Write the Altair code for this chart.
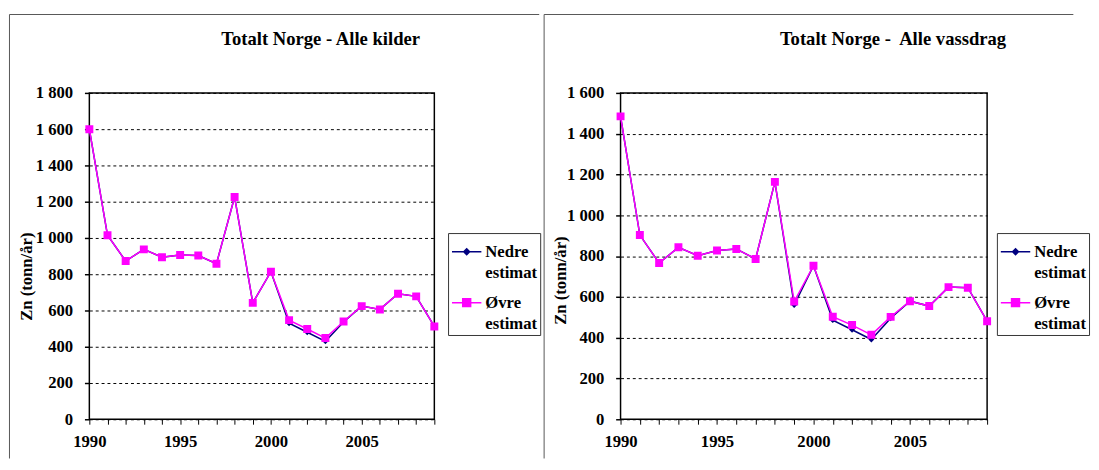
import altair as alt
import pandas as pd

# ---------------- data ----------------
years = list(range(1990, 2010))
series_names = ["Nedre estimat", "Øvre estimat"]
series_colors = ["#000080", "#ff00ff"]

left_title = "Totalt Norge - Alle kilder"
left_nedre = [1600, 1015, 873, 937, 894, 906, 903, 858, 1226, 642, 814, 530, 480, 430, 537, 624, 606, 692, 678, 512]
left_ovre = [1600, 1015, 873, 937, 894, 906, 903, 858, 1226, 642, 814, 547, 498, 448, 539, 624, 606, 692, 678, 512]
left_y_ticks = [0, 200, 400, 600, 800, 1000, 1200, 1400, 1600, 1800]

right_title = "Totalt Norge -\u00a0 Alle vassdrag"
right_nedre = [1485, 903, 766, 843, 802, 827, 835, 786, 1164, 560, 753, 486, 439, 391, 495, 579, 555, 648, 645, 481]
right_ovre = [1485, 903, 766, 843, 802, 827, 835, 786, 1164, 577, 753, 503, 462, 414, 502, 579, 555, 648, 645, 481]
right_y_ticks = [0, 200, 400, 600, 800, 1000, 1200, 1400, 1600]

y_title = "Zn (tonn/år)"

# ---------------- style ----------------
FONT = "Liberation Serif"
FS = 17
DIAMOND = "M-1,0H1M0,-0.2L0.2,0L0,0.2L-0.2,0Z"
SQUARE = "M-1,0H1M-0.27,-0.27H0.27V0.27H-0.27Z"
FRAME = "#555555"


def long_df(nedre, ovre):
    rows = []
    for name, vals in zip(series_names, [nedre, ovre]):
        for yr, v in zip(years, vals):
            rows.append({"year": yr, "value": v, "series": name})
    return pd.DataFrame(rows)


def panel(title, nedre, ovre, yticks, width, title_dx, ytitle_x, ytitle_y,
          legend_x, frame_left, frame_right, right_color):
    df = long_df(nedre, ovre)
    base = alt.Chart(df)

    x = alt.X(
        "year:Q",
        scale=alt.Scale(domain=[years[0], years[-1]], nice=False, zero=False),
        axis=alt.Axis(
            values=years,
            labelExpr="datum.value % 5 == 0 ? format(datum.value, 'd') : ''",
            title=None, grid=False, domain=False,
            tickSize=5, tickWidth=1, tickColor="black",
            labelPadding=10, labelFlush=False, labelOverlap=False,
            labelFont=FONT, labelFontSize=FS, labelFontWeight="bold", labelColor="black",
        ),
    )
    y = alt.Y(
        "value:Q",
        scale=alt.Scale(domain=[yticks[0], yticks[-1]], nice=False, zero=True),
        axis=alt.Axis(
            values=yticks,
            labelExpr="replace(format(datum.value, ','), ',', ' ')",
            title=y_title, titleX=ytitle_x, titleY=ytitle_y, titleAngle=270,
            titleAlign="center", titleBaseline="middle",
            titleFont=FONT, titleFontSize=FS, titleFontWeight="bold", titleColor="black",
            grid=True, gridColor="black", gridDash=[3, 3], gridWidth=1,
            domain=False, tickSize=5, tickWidth=1.5, tickColor="black",
            labelPadding=12, labelFlush=False,
            labelFont=FONT, labelFontSize=FS, labelFontWeight="bold", labelColor="black",
        ),
    )
    legend = alt.Legend(
        title=None, orient="none", legendX=legend_x, legendY=143,
        direction="vertical", padding=3, strokeColor="#333333", fillColor="white",
        rowPadding=6, labelOffset=3, symbolSize=900, symbolStrokeWidth=1.5,
        symbolOpacity=1,
        labelExpr="split(datum.label, ' ')", labelLimit=300,
        labelFont=FONT, labelFontSize=FS, labelFontWeight="bold", labelColor="black",
    )
    color_scale = alt.Scale(domain=series_names, range=series_colors)
    shape_scale = alt.Scale(domain=series_names, range=[DIAMOND, SQUARE])

    lines = base.mark_line(strokeWidth=1.5).encode(
        x=x, y=y,
        stroke=alt.Stroke("series:N", scale=color_scale, legend=legend),
    )
    points = base.mark_point(filled=True, size=900, opacity=1).encode(
        x=x, y=y,
        fill=alt.Fill("series:N", scale=color_scale, legend=legend),
        shape=alt.Shape("series:N", scale=shape_scale, legend=legend),
    )

    one = alt.Chart(pd.DataFrame({"f": [0]}))
    top_rule = one.mark_rule(color=FRAME, strokeWidth=1).encode(
        x=alt.value(frame_left), x2=alt.value(frame_right), y=alt.value(-80))
    left_rule = one.mark_rule(color=FRAME, strokeWidth=1).encode(
        x=alt.value(frame_left), y=alt.value(-80), y2=alt.value(373))
    right_rule = one.mark_rule(color=right_color, strokeWidth=1).encode(
        x=alt.value(frame_right), y=alt.value(-80), y2=alt.value(373))

    return alt.layer(right_rule, top_rule, left_rule, lines, points).properties(
        width=width, height=333,
        title=alt.TitleParams(
            text=title, font=FONT, fontSize=19, fontWeight="bold", color="black",
            anchor="middle", frame="group", dx=title_dx, dy=51, offset=0,
            baseline="alphabetic",
        ),
    )


left = panel(left_title, left_nedre, left_ovre, left_y_ticks, 352, 60, -64, 187,
             366, -81.5, 459, "white")
right = panel(right_title, right_nedre, right_ovre, right_y_ticks, 374, 91, -61, 191,
              384, -78, 462, "white")

chart = (
    alt.hconcat(left, right, spacing=0)
    .resolve_scale(stroke="independent", fill="independent", shape="independent")
    .resolve_legend(stroke="independent", fill="independent", shape="independent")
    .properties(padding={"left": 0, "top": 0, "right": 0, "bottom": 0}, background="white")
    .configure(
        font=FONT,
        style={
            "guide-label": {"lineHeight": 22, "font": FONT, "fontWeight": "bold",
                            "fontSize": FS, "fill": "black"},
            "guide-title": {"font": FONT, "fontWeight": "bold", "fontSize": FS,
                            "fill": "black"},
        },
        axis=alt.AxisConfig(labelFont=FONT, labelFontSize=FS, labelFontWeight="bold",
                            labelColor="black", titleFont=FONT, titleFontSize=FS,
                            titleFontWeight="bold", titleColor="black"),
        legend=alt.LegendConfig(labelFont=FONT, labelFontSize=FS, labelFontWeight="bold",
                                labelColor="black"),
        view=alt.ViewConfig(stroke="black", strokeWidth=1.5),
    )
)

chart.save("out.html", embed_options={"renderer": "svg", "actions": False})
